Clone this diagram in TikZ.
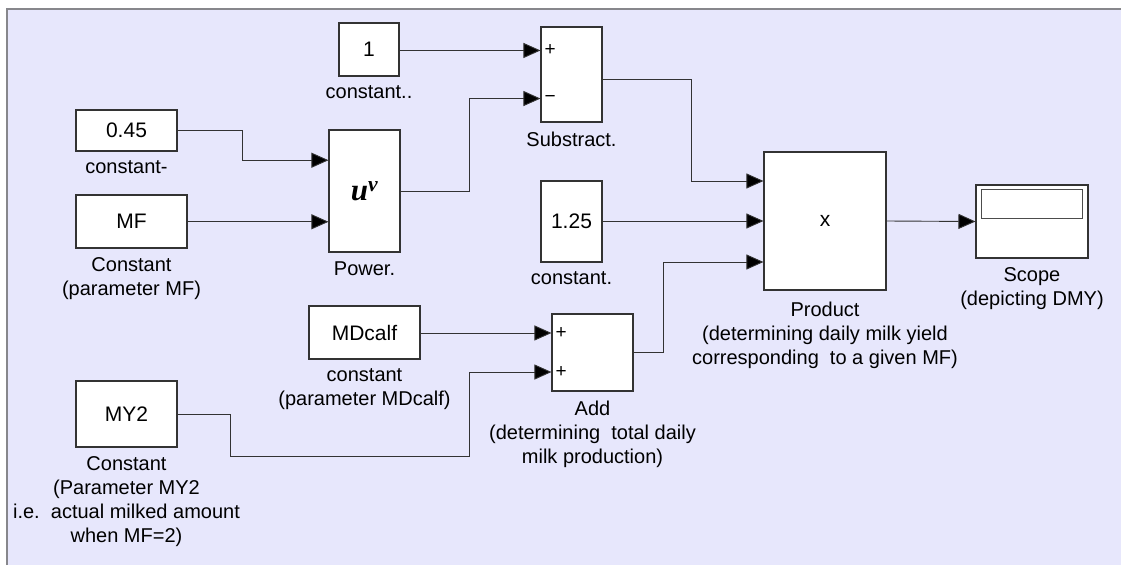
\documentclass[tikz,border=0pt]{standalone}
\usepackage{fontspec}
\setmainfont{Liberation Sans}
\newfontfamily\powfont{Liberation Serif}
\usetikzlibrary{positioning,calc,arrows.meta,shadows}

\definecolor{canvas}{RGB}{231,231,252}
\definecolor{frame}{RGB}{135,135,140}

\begin{document}
\begin{tikzpicture}[x=1pt,y=-1pt,
        blk/.style={draw=black!80, line width=1.1pt, fill=white, inner sep=0pt,
            font=\fontsize{21}{24}\selectfont,
            drop shadow={shadow xshift=1.2pt, shadow yshift=-1.2pt, opacity=0.3}},
        lbl/.style={inner sep=0pt, align=center, font=\fontsize{20}{24}\selectfont},
        sgn/.style={inner sep=0pt, anchor=west, font=\fontsize{19}{19}\selectfont},
        wire/.style={draw=black!80, line width=0.9pt},
        sig/.style={wire, -{Triangle[length=17pt,width=15pt,fill=black]}}]
    \useasboundingbox (0,0) rectangle (1121,565);
    \fill[canvas] (7,9) rectangle (1121,565);
    \draw[frame, line width=1.3pt] (7,565) -- (7,9) -- (1121,9);

    % blocks
    \node[blk, minimum width=60pt, minimum height=53pt] (one) at (369,49.5) {1};
    \node[blk, minimum width=101pt, minimum height=41pt] (c045) at (126.5,130.5) {0.45};
    \node[blk, minimum width=111pt, minimum height=53pt] (mf) at (131.5,221.5) {MF};
    \node[blk, minimum width=71pt, minimum height=122pt] (power) at (364.5,191)
        {\powfont\fontsize{31}{31}\selectfont\bfseries\itshape u\textsuperscript{ν}};
    \node[blk, minimum width=61pt, minimum height=95pt] (sub) at (571.5,74.5) {};
    \node[blk, minimum width=61pt, minimum height=81pt] (c125) at (571.5,221.5) {1.25};
    \node[blk, minimum width=122pt, minimum height=138pt] (prod) at (825,221) {x};
    \node[blk, minimum width=112pt, minimum height=73pt] (scope) at (1032,221.5) {};
    \node[blk, minimum width=111pt, minimum height=53pt] (mdcalf) at (364.5,332.5) {MDcalf};
    \node[blk, minimum width=81pt, minimum height=77pt] (add) at (592.5,352.5) {};
    \node[blk, minimum width=101pt, minimum height=66pt] (my2) at (126.5,414) {MY2};
    \draw[black!70, line width=0.9pt] ($(scope.north west)+(6,5)$) rectangle ($(scope.north east)+(-6,34)$);

    % labels
    \node[lbl, below=9pt of one] (onelbl) {constant..};
    \node[lbl, below=9pt of c045] (c045lbl) {constant-};
    \node[lbl, below=9pt of mf] (mflbl) {Constant\\(parameter MF)};
    \node[lbl, below=9pt of power] (powerlbl) {Power.};
    \node[lbl, below=9pt of sub] (sublbl) {Substract.};
    \node[lbl, below=9pt of c125] (c125lbl) {constant.};
    \node[lbl, below=11pt of prod] (prodlbl) {Product\\(determining daily milk yield\\corresponding\ \ to a given MF)};
    \node[lbl, below=9pt of scope] (scopelbl) {Scope\\(depicting DMY)};
    \node[lbl, below=9pt of mdcalf] (mdcalflbl) {constant\\(parameter MDcalf)};
    \node[lbl, below=9pt of add] (addlbl) {Add\\(determining\ \ total daily\\milk production)};
    \node[lbl, below=9pt of my2] (my2lbl) {Constant\\(Parameter MY2\\i.e.\ \ actual milked amount\\when MF=2)};

    % ports
    \coordinate (powA) at ($(power.north west)!0.25!(power.south west)$);
    \coordinate (powB) at ($(power.north west)!0.75!(power.south west)$);
    \coordinate (subA) at ($(sub.north west)!0.25!(sub.south west)$);
    \coordinate (subB) at ($(sub.north west)!0.75!(sub.south west)$);
    \coordinate (addA) at ($(add.north west)!0.25!(add.south west)$);
    \coordinate (addB) at ($(add.north west)!0.75!(add.south west)$);
    \coordinate (prodA) at ($(prod.west)+(0,-40)$);
    \coordinate (prodB) at (prod.west);
    \coordinate (prodC) at ($(prod.west)+(0,41)$);

    \node[sgn] (subplus) at ($(subA)+(4,0)$) {+};
    \node[sgn] (subminus) at ($(subB)+(4,0)$) {−};
    \node[sgn] (addplusA) at ($(addA)+(4,0)$) {+};
    \node[sgn] (addplusB) at ($(addB)+(4,0)$) {+};

    % signals
    \draw[sig] (c045.east) -- ++(65,0) |- (powA);
    \draw[sig] (mf.east |- powB) -- (powB);
    \draw[sig] (one.east |- subA) -- (subA);
    \draw[sig] (power.east) -- ++(69,0) |- (subB);
    \draw[sig] ([yshift=-5pt]sub.east) -- ++(89,0) |- (prodA);
    \draw[sig] (c125.east |- prodB) -- (prodB);
    \draw[sig] (add.east) -- ++(30,0) |- (prodC);
    \draw[sig] (prod.east) -- (scope.west);
    \draw[sig] (mdcalf.east |- addA) -- (addA);
    \draw[sig] (my2.east) -- ++(53,0) -- ++(0,42) -- ++(239,0) |- (addB);
\end{tikzpicture}
\end{document}
